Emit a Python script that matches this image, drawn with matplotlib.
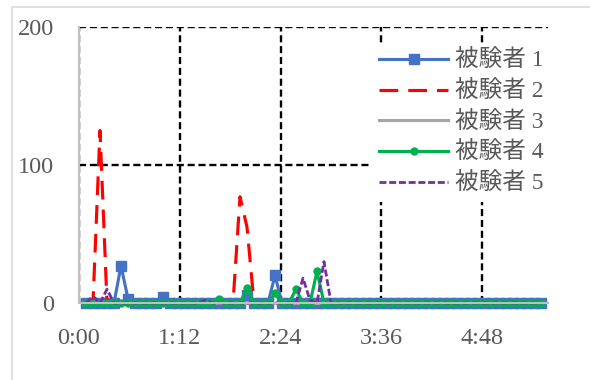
import numpy as np
import matplotlib.pyplot as plt
from matplotlib.patches import Rectangle
from matplotlib.ticker import FuncFormatter

# 計測時刻（秒）
times = [5, 10, 15, 20, 25, 30, 35, 40, 45, 50, 55, 60,
         65, 70, 75, 80, 85, 90, 95, 100, 105, 110, 115, 120,
         125, 130, 135, 140, 145, 150, 155, 160, 165, 170, 175, 180,
         185, 190, 195, 200, 205, 210, 215, 220, 225, 230, 235, 240,
         245, 250, 255, 260, 265, 270, 275, 280, 285, 290, 295, 300,
         305, 310, 315, 320, 325, 330]

subject1 = [0, 0, 0, 0, 0, 27, 3, 0, 0, 0, 0, 4,
            0, 0, 0, 0, 0, 0, 0, 0, 0, 0, 0, 6,
            0, 0, 0, 20, 0, 0, 0, 0, 0, 0, 0, 0,
            0, 0, 0, 0, 0, 0, 0, 0, 0, 0, 0, 0,
            0, 0, 0, 0, 0, 0, 0, 0, 0, 0, 0, 0,
            0, 0, 0, 0, 0, 0]
subject2 = [0, 0, 125, 0, 0, 0, 0, 0, 0, 0, 0, 0,
            0, 0, 0, 0, 0, 0, 0, 0, 0, 0, 77, 55,
            0, 0, 0, 0, 0, 0, 0, 0, 0, 0, 0, 0,
            0, 0, 0, 0, 0, 0, 0, 0, 0, 0, 0, 0,
            0, 0, 0, 0, 0, 0, 0, 0, 0, 0, 0, 0,
            0, 0, 0, 0, 0, 0]
subject3 = [0, 0, 0, 0, 0, 0, 0, 0, 0, 0, 0, 0,
            0, 0, 0, 0, 0, 0, 0, 0, 0, 0, 0, 0,
            0, 0, 0, 0, 0, 0, 0, 0, 0, 0, 0, 0,
            0, 0, 0, 0, 0, 0, 0, 0, 0, 0, 0, 0,
            0, 0, 0, 0, 0, 0, 0, 0, 0, 0, 0, 0,
            0, 0, 0, 0, 0, 0]
subject4 = [0, 0, 0, 0, 0, 0, 0, 0, 0, 0, 0, 0,
            0, 0, 0, 0, 0, 0, 0, 3, 0, 0, 0, 11,
            0, 0, 0, 7, 0, 0, 10, 0, 0, 23, 0, 0,
            0, 0, 0, 0, 0, 0, 0, 0, 0, 0, 0, 0,
            0, 0, 0, 0, 0, 0, 0, 0, 0, 0, 0, 0,
            0, 0, 0, 0, 0, 0]
subject5 = [0, 5, 0, 10, 0, 0, 0, 0, 0, 0, 0, 0,
            0, 0, 0, 0, 0, 2, 0, 0, 0, 0, 0, 0,
            0, 0, 0, 0, 0, 0, 0, 18, 2, 0, 30, 0,
            0, 0, 0, 0, 0, 0, 0, 0, 0, 0, 0, 0,
            0, 0, 0, 0, 0, 0, 0, 0, 0, 0, 0, 0,
            0, 0, 0, 0, 0, 0]

labels = ["被験者 1", "被験者 2", "被験者 3", "被験者 4", "被験者 5"]
x_ticks = [0, 72, 144, 216, 288]
y_ticks = [0, 100, 200]

text_grey = "#595959"
fonts = ["Liberation Serif", "Noto Sans CJK JP"]
plt.rcParams["font.family"] = fonts

fig = plt.figure(figsize=(5.9, 3.8), dpi=100)

# グラフ全体の枠
fig.patches.append(Rectangle((12 / 590, -0.2), 1.2, 1.2 - 7 / 380,
                             transform=fig.transFigure, fill=False,
                             edgecolor="#d9d9d9", linewidth=1.2))

ax = fig.add_axes([79 / 590, 1 - 303 / 380, (548 - 79) / 590, (303 - 27) / 380])

ax.plot(times, subject1, color="#4472C4", lw=2.25, marker="s", markersize=7,
        label=labels[0], clip_on=False)
ax.plot(times, subject2, color="#FF0000", lw=2.25, dashes=(6, 3.2),
        label=labels[1], clip_on=False)
ax.plot(times, subject3, color="#A5A5A5", lw=2.25, label=labels[2], clip_on=False)
ax.plot(times, subject4, color="#00B050", lw=2.25, marker="o", markersize=5,
        label=labels[3], clip_on=False)
ax.plot(times, subject5, color="#7030A0", lw=2, dashes=(2.5, 1),
        label=labels[4], clip_on=False)

ax.set_xlim(0, 335)
ax.set_ylim(0, 200)
ax.set_xticks(x_ticks)
ax.set_yticks(y_ticks)
ax.xaxis.set_major_formatter(FuncFormatter(lambda v, p: f"{int(v) // 60}:{int(v) % 60:02d}"))
ax.tick_params(length=0, labelsize=17.5, colors=text_grey)
ax.tick_params(axis="y", pad=18)
ax.tick_params(axis="x", pad=18)

# 点線のグリッド
ax.grid(True, color="black", linestyle=(0, (3, 1.6)), linewidth=1.7)
ax.set_axisbelow(True)
for side in ["top", "right"]:
    ax.spines[side].set_visible(False)
for side in ["left", "bottom"]:
    ax.spines[side].set_color("#bfbfbf")
    ax.spines[side].set_linewidth(1.5)

leg = ax.legend(loc="upper left", bbox_to_anchor=(0.60, 0.985), fontsize=17,
                frameon=True, facecolor="white", edgecolor="none", framealpha=1,
                fancybox=False, handlelength=2.9, handletextpad=0.3,
                labelspacing=0.37, borderpad=0.3)
for t in leg.get_texts():
    t.set_color(text_grey)

fig.savefig("out.png", dpi=100)
